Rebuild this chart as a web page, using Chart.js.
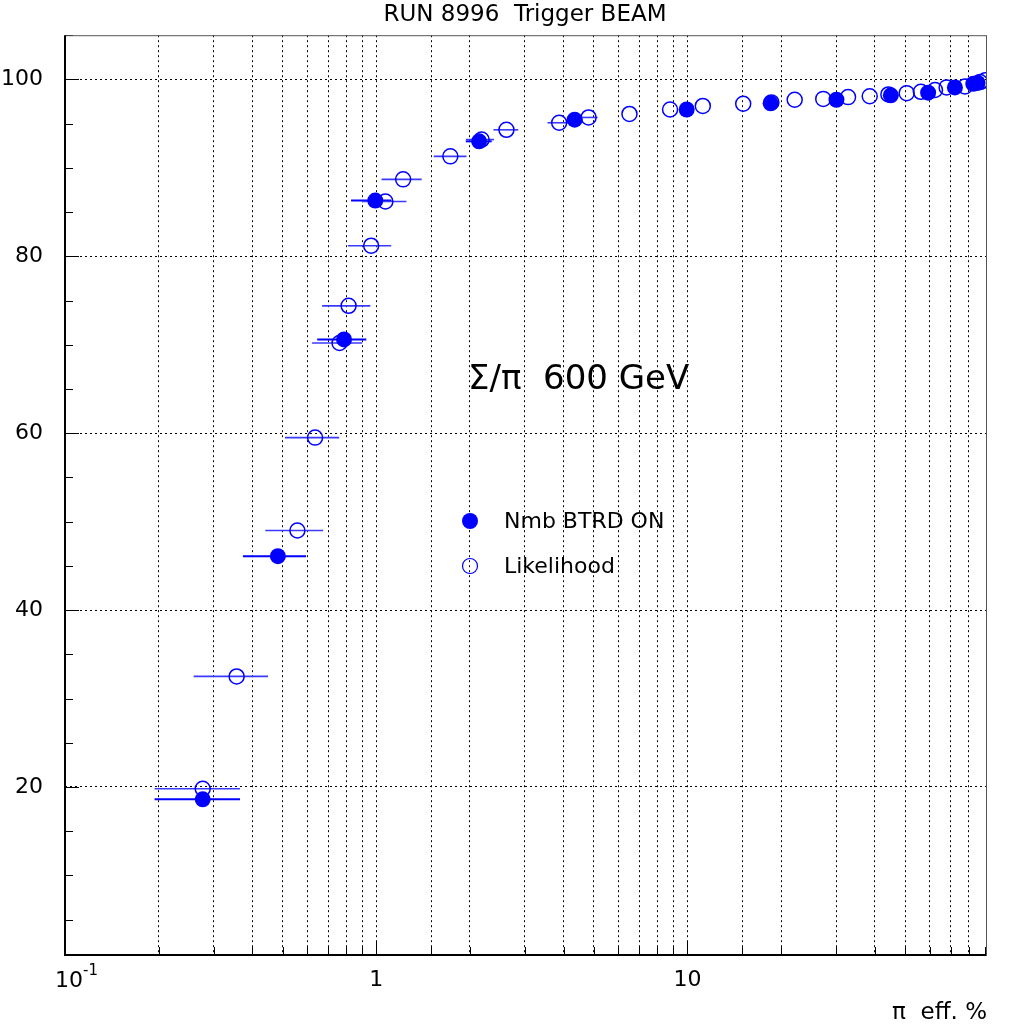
<!DOCTYPE html>
<html lang="en">
<head>
  <meta charset="UTF-8" />
  <title>RUN 8996 Trigger BEAM</title>
  <script src="https://cdn.jsdelivr.net/npm/chart.js@4.4.0/dist/chart.umd.min.js"></script>
  <style>
    body { margin: 0; background: #fff; }
    #wrap { width: 1015px; height: 1029px; position: relative; }
  </style>
</head>
<body>
  <div id="wrap"><canvas id="chart"></canvas></div>

  <script>
    // Nmb BTRD ON (filled circles)
    const nmbX   = [0.277, 0.483, 0.788, 0.993, 2.14, 4.34, 9.94, 18.5, 30.1, 45.0, 59.3, 72.3, 82.8, 85.5];
    const nmbY   = [18.6, 46.1, 70.6, 86.3, 93.0, 95.45, 96.6, 97.3, 97.7, 98.2, 98.5, 99.1, 99.5, 99.6];
    const nmbXLo = [0.194, 0.373, 0.646, 0.83, 1.94, 4.1, null, null, null, null, null, null, null, null];
    const nmbXHi = [0.365, 0.595, 0.929, 1.12, 2.35, 4.6, null, null, null, null, null, null, null, null];

    // Likelihood (open circles)
    const likX   = [0.277, 0.356, 0.558, 0.636, 0.762, 0.815, 0.963, 1.07, 1.22, 1.73, 2.18, 2.62, 3.87, 4.81,
                    6.51, 8.79, 11.2, 15.1, 18.6, 22.1, 27.3, 32.8, 38.5, 44.2, 50.6, 56.2, 62.4, 68.0, 77.9, 87.1, 90.5];
    const likY   = [19.8, 32.5, 49.0, 59.5, 70.2, 74.4, 81.2, 86.2, 88.7, 91.3, 93.2, 94.3, 95.1, 95.7,
                    96.1, 96.6, 97.0, 97.25, 97.4, 97.7, 97.8, 98.0, 98.1, 98.3, 98.45, 98.6, 98.8, 99.1, 99.2, 99.7, 99.9];
    const likXLo = [0.194, 0.259, 0.44, 0.509, 0.622, 0.67, 0.811, 0.90, 1.04, 1.53, 1.94, 2.38, 3.55, 4.45];
    const likXHi = [0.365, 0.449, 0.675, 0.76, 0.901, 0.957, 1.117, 1.25, 1.40, 1.95, 2.39, 2.86, 4.15, 5.14];

    // x labels: 0.1 is written as 10 with a superscript -1
    const xLabels = { 1: '1', 10: '10' };
    const yLabelStep = 20;

    const FONT = 'DejaVu Sans';
    const BLUE = '#0000ff';

    function toPoints(xs, ys, lo, hi) {
      return xs.map((x, i) => ({ x: x, y: ys[i], xMin: lo[i] ?? null, xMax: hi[i] ?? null }));
    }

    function near(v, k) {
      return Math.abs(v - k) < 1e-9 * k + 1e-12;
    }

    function labelFor(v) {
      for (const k in xLabels) {
        if (near(v, Number(k))) return xLabels[k];
      }
      return '';
    }

    // horizontal error bars, drawn under the markers
    const errorBars = {
      id: 'errorBars',
      beforeDatasetsDraw(chart) {
        const ctx = chart.ctx;
        const xs = chart.scales.x, ys = chart.scales.y;
        chart.data.datasets.forEach(ds => {
          ctx.save();
          ctx.strokeStyle = ds.barColor;
          ctx.lineWidth = ds.barWidth;
          ds.data.forEach(p => {
            if (p.xMin == null || p.xMax == null) return;
            const y = ys.getPixelForValue(p.y);
            ctx.beginPath();
            ctx.moveTo(xs.getPixelForValue(p.xMin), y);
            ctx.lineTo(xs.getPixelForValue(p.xMax), y);
            ctx.stroke();
          });
          ctx.restore();
        });
      }
    };

    // frame, inner tick marks and free text
    const decorations = {
      id: 'decorations',
      afterDraw(chart) {
        const ctx = chart.ctx;
        const a = chart.chartArea;
        const xs = chart.scales.x, ys = chart.scales.y;
        ctx.save();

        // tick marks inside the frame
        ctx.strokeStyle = '#000';
        ctx.lineWidth = 1;
        ctx.beginPath();
        ys.ticks.forEach(t => {
          if (t.value % 5 !== 0) return;
          const y = Math.round(ys.getPixelForValue(t.value)) + 0.5;
          const len = t.value % yLabelStep === 0 ? 14 : 8;
          ctx.moveTo(a.left, y); ctx.lineTo(a.left + len, y);
        });
        xs.ticks.forEach(t => {
          const x = Math.round(xs.getPixelForValue(t.value)) + 0.5;
          const len = labelFor(t.value) ? 14 : 8;
          ctx.moveTo(x, a.bottom); ctx.lineTo(x, a.bottom - len);
        });
        ctx.stroke();

        // frame
        ctx.lineWidth = 1;
        ctx.strokeStyle = '#555';
        ctx.strokeRect(a.left + 0.5, a.top + 0.5, a.right - a.left, a.bottom - a.top);
        ctx.strokeStyle = '#000';
        ctx.lineWidth = 2;
        ctx.beginPath();
        ctx.moveTo(a.left, a.top); ctx.lineTo(a.left, a.bottom); ctx.lineTo(a.right, a.bottom);
        ctx.stroke();

        ctx.fillStyle = '#000';
        ctx.textBaseline = 'middle';

        // 10^-1 label at the axis minimum
        const x0 = xs.getPixelForValue(0.1);
        ctx.textAlign = 'right';
        ctx.font = '22px "' + FONT + '"';
        ctx.fillText('10', x0 + 18, 981);
        ctx.textAlign = 'left';
        ctx.font = '15px "' + FONT + '"';
        ctx.fillText('-1', x0 + 18, 971);

        // title
        ctx.textAlign = 'center';
        ctx.font = '23px "' + FONT + '"';
        ctx.fillText('RUN 8996  Trigger BEAM', 525, 15);

        // axis title
        ctx.textAlign = 'right';
        ctx.font = '23px "' + FONT + '"';
        ctx.fillText('\u03C0  eff. %', 987, 1013);

        // annotation
        ctx.textAlign = 'left';
        ctx.font = '34px "' + FONT + '"';
        ctx.fillText('\u03A3/\u03C0  600 GeV', 468, 380);

        // legend
        ctx.fillStyle = BLUE;
        ctx.beginPath(); ctx.arc(470, 521, 8, 0, Math.PI * 2); ctx.fill();
        ctx.strokeStyle = BLUE;
        ctx.lineWidth = 1.2;
        ctx.beginPath(); ctx.arc(470, 566, 7.5, 0, Math.PI * 2); ctx.stroke();
        ctx.fillStyle = '#000';
        ctx.font = '22px "' + FONT + '"';
        ctx.fillText('Nmb BTRD ON', 504, 522);
        ctx.fillText('Likelihood', 504, 567);

        ctx.restore();
      }
    };

    const ctx = document.getElementById('chart').getContext('2d');
    new Chart(ctx, {
      type: 'scatter',
      data: {
        datasets: [
          {
            label: 'Nmb BTRD ON',
            data: toPoints(nmbX, nmbY, nmbXLo, nmbXHi),
            pointRadius: 8,
            pointBorderWidth: 0,
            backgroundColor: BLUE,
            borderColor: BLUE,
            barColor: BLUE,
            barWidth: 2
          },
          {
            label: 'Likelihood',
            data: toPoints(likX, likY, likXLo, likXHi),
            pointRadius: 7.5,
            pointBorderWidth: 1.5,
            backgroundColor: 'rgba(0,0,0,0)',
            borderColor: BLUE,
            barColor: '#3a3aff',
            barWidth: 1.6
          }
        ]
      },
      options: {
        responsive: true,
        maintainAspectRatio: false,
        animation: false,
        layout: { padding: { top: 33, right: 29, left: 0, bottom: 0 } },
        plugins: {
          legend: { display: false },
          title: { display: false },
          tooltip: { enabled: false }
        },
        scales: {
          x: {
            type: 'logarithmic',
            min: 0.1,
            max: 91,
            afterFit: s => { s.height = 74; },
            border: { display: false, dash: [2, 3] },
            grid: {
              drawTicks: false,
              lineWidth: 1,
              color: c => (c.tick && c.tick.value > 0.1001 && c.tick.value < 90) ? '#000' : 'rgba(0,0,0,0)'
            },
            ticks: {
              autoSkip: false,
              maxRotation: 0,
              padding: 12,
              color: '#000',
              font: { family: FONT, size: 22 },
              callback: v => labelFor(v)
            }
          },
          y: {
            min: 1,
            max: 105,
            afterFit: s => { s.width = 65; },
            border: { display: false, dash: [2, 3] },
            grid: {
              drawTicks: false,
              lineWidth: 1,
              color: c => (c.tick && c.tick.value % yLabelStep === 0) ? '#000' : 'rgba(0,0,0,0)'
            },
            ticks: {
              stepSize: 5,
              autoSkip: false,
              padding: 22,
              color: '#000',
              font: { family: FONT, size: 22 },
              callback: v => (v % yLabelStep === 0 && v > 0) ? String(v) : ''
            }
          }
        }
      },
      plugins: [errorBars, decorations]
    });
  </script>
</body>
</html>
